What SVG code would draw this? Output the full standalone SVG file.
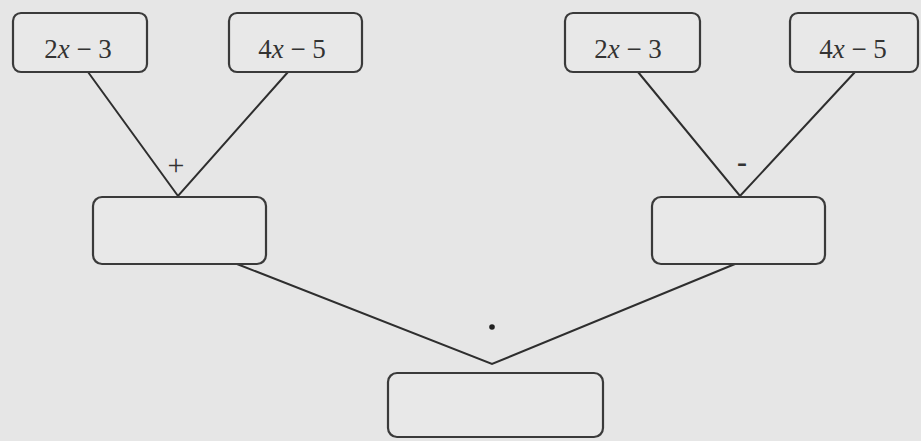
<svg xmlns="http://www.w3.org/2000/svg" width="921" height="441" viewBox="0 0 921 441">
<style>
.box{fill:#e8e8e8;stroke:#3a3a3a;stroke-width:2.2}
.ln{stroke:#2e2e2e;stroke-width:2;fill:none}
.t{font-family:"Liberation Serif","Times New Roman",serif;font-size:27px;fill:#333;text-anchor:middle}
.op{font-family:"Liberation Serif","Times New Roman",serif;font-size:30px;fill:#333;text-anchor:middle}
</style>
<rect width="921" height="441" fill="#e6e6e6"/>
<g id="connectors">
<polyline class="ln" points="88,72 178,196 288,72"/>
<polyline class="ln" points="638,72 740,196 855,72"/>
<polyline class="ln" points="237,264 492,364 735,264"/>
<text class="op" x="176" y="175">+</text>
<text class="op" x="742" y="172" font-weight="bold">-</text>
<circle cx="492" cy="327" r="2.8" fill="#222"/>
</g>
<g id="n1"><rect class="box" x="13" y="13" width="134" height="59" rx="8"/><text class="t" x="78" y="58">2<tspan font-style="italic">x</tspan> − 3</text></g>
<g id="n2"><rect class="box" x="229" y="13" width="133" height="59" rx="8"/><text class="t" x="292" y="58">4<tspan font-style="italic">x</tspan> − 5</text></g>
<g id="n3"><rect class="box" x="565" y="13" width="135" height="59" rx="8"/><text class="t" x="628" y="58">2<tspan font-style="italic">x</tspan> − 3</text></g>
<g id="n4"><rect class="box" x="790" y="13" width="128" height="59" rx="8"/><text class="t" x="853" y="58">4<tspan font-style="italic">x</tspan> − 5</text></g>
<g id="n5"><rect class="box" x="93" y="197" width="173" height="67" rx="9"/></g>
<g id="n6"><rect class="box" x="652" y="197" width="173" height="67" rx="9"/></g>
<g id="n7"><rect class="box" x="388" y="373" width="215" height="64" rx="9"/></g>
</svg>
